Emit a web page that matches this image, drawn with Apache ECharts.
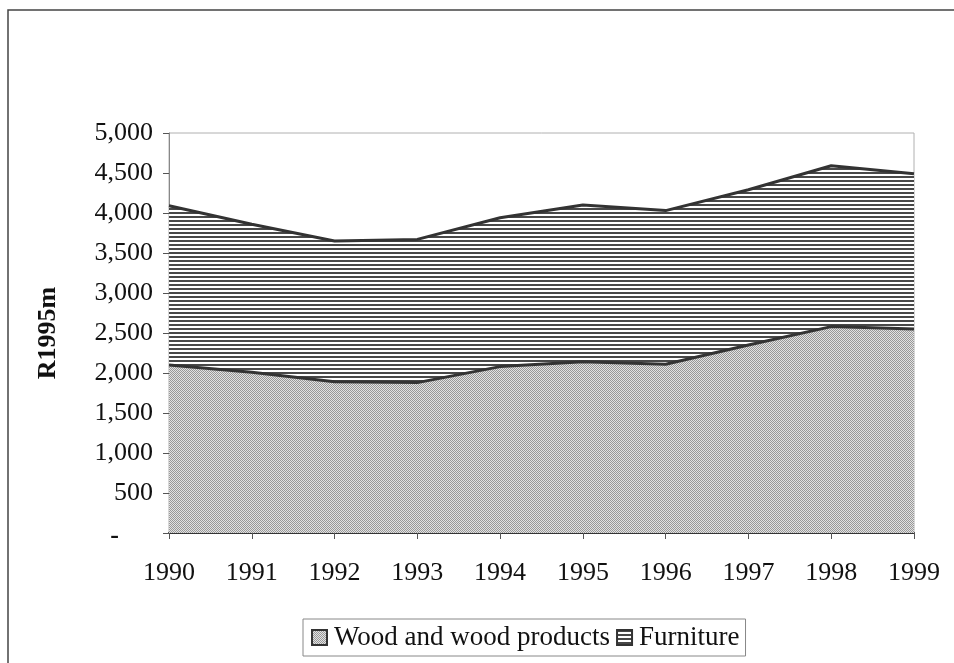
<!DOCTYPE html>
<html>
<head>
<meta charset="utf-8">
<script src="https://cdn.jsdelivr.net/npm/echarts@6/dist/echarts.min.js"></script>
<style>
	html, body { margin: 0; padding: 0; background: #fff; }
	#chart { width: 954px; height: 663px; }
</style>
</head>
<body>
<div id="chart"></div>
<script>
	// 年份
	var years = ['1990', '1991', '1992', '1993', '1994', '1995', '1996', '1997', '1998', '1999'];
	// 木材及木制品 (R1995m)
	var wood = [2100, 2010, 1890, 1880, 2080, 2140, 2110, 2350, 2580, 2550];
	// 家具 (R1995m)
	var furniture = [1990, 1850, 1760, 1790, 1860, 1960, 1920, 1940, 2010, 1940];

	var serif = '"Liberation Serif", "DejaVu Serif", serif';

	//点状灰色填充
	function woodPattern() {
		var c = document.createElement('canvas');
		c.width = 2;
		c.height = 2;
		var ctx = c.getContext('2d');
		ctx.fillStyle = '#e2e2e2';
		ctx.fillRect(0, 0, 2, 2);
		ctx.fillStyle = '#989898';
		ctx.fillRect(0, 0, 1, 1);
		ctx.fillRect(1, 1, 1, 1);
		return { image: c, repeat: 'repeat' };
	}

	//横条纹填充
	function stripePattern() {
		var c = document.createElement('canvas');
		c.width = 4;
		c.height = 4;
		var ctx = c.getContext('2d');
		ctx.fillStyle = '#ffffff';
		ctx.fillRect(0, 0, 4, 4);
		ctx.fillStyle = '#484848';
		ctx.fillRect(0, 0, 4, 2);
		return { image: c, repeat: 'repeat' };
	}

	var woodFill = woodPattern();
	var stripeFill = stripePattern();

	var myChart = echarts.init(document.getElementById('chart'));

	var option = {
		animation: false,
		backgroundColor: '#fff',
		graphic: [{
			type: 'rect',
			shape: { x: 8, y: 10, width: 1000, height: 1000 },
			style: { fill: 'none', stroke: '#444', lineWidth: 1.5 },
			silent: true
		}],
		grid: {
			left: 169,
			right: 40,
			top: 133,
			bottom: 130,
			show: true,
			borderColor: '#b0b0b0',
			borderWidth: 1
		},
		legend: {
			left: 303,
			top: 619,
			icon: 'rect',
			itemWidth: 15,
			itemHeight: 15,
			itemGap: 6,
			padding: [5, 6, 5, 8],
			borderColor: '#888',
			borderWidth: 1,
			textStyle: { fontFamily: serif, fontSize: 27, color: '#111', padding: [0, 0, 0, 2] },
			data: [
				{ name: 'Wood and wood products', itemStyle: { color: woodFill, borderColor: '#333', borderWidth: 2 } },
				{ name: 'Furniture', itemStyle: { color: stripeFill, borderColor: '#333', borderWidth: 2 } }
			]
		},
		xAxis: {
			type: 'category',
			data: years,
			boundaryGap: false,
			axisLine: { lineStyle: { color: '#333', width: 2 } },
			axisTick: { show: true, length: 6, lineStyle: { color: '#555' } },
			axisLabel: { fontFamily: serif, fontSize: 26, color: '#111', margin: 27 },
			splitLine: { show: false }
		},
		yAxis: {
			type: 'value',
			min: 0,
			max: 5000,
			interval: 500,
			name: 'R1995m',
			nameLocation: 'middle',
			nameGap: 108,
			nameRotate: 90,
			nameTextStyle: { fontFamily: serif, fontSize: 26, fontWeight: 'bold', color: '#111' },
			axisLine: { show: true, lineStyle: { color: '#888', width: 1 } },
			axisTick: { show: true, length: 6, lineStyle: { color: '#555' } },
			axisLabel: {
				fontFamily: serif,
				fontSize: 26,
				color: '#111',
				margin: 16,
				formatter: function(v) {
					if(v === 0) {
						return '{dash|-}';
					}
					return echarts.format.addCommas(v);
				},
				rich: {
					dash: { fontFamily: serif, fontSize: 26, fontWeight: 'bold', color: '#111', padding: [6, 34, 0, 0] }
				}
			},
			splitLine: { show: false }
		},
		series: [{
			name: 'Wood and wood products',
			type: 'line',
			stack: 'total',
			symbol: 'none',
			data: wood,
			itemStyle: { color: woodFill },
			lineStyle: { color: '#333', width: 3 },
			areaStyle: { color: woodFill, opacity: 1 }
		}, {
			name: 'Furniture',
			type: 'line',
			stack: 'total',
			symbol: 'none',
			data: furniture,
			itemStyle: { color: stripeFill },
			lineStyle: { color: '#333', width: 3 },
			areaStyle: { color: stripeFill, opacity: 1 }
		}]
	};

	myChart.setOption(option);
</script>
</body>
</html>
